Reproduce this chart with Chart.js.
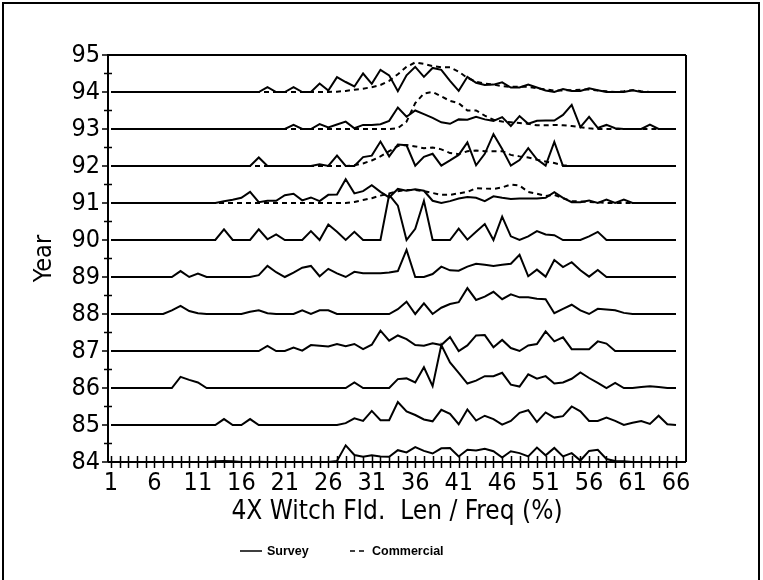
<!DOCTYPE html>
<html><head><meta charset="utf-8">
<script src="https://cdn.jsdelivr.net/npm/chart.js@4.4.1/dist/chart.umd.min.js"></script>
<style>
html,body{margin:0;padding:0;background:#fff;}
#wrap{position:relative;width:763px;height:580px;overflow:hidden;}
#frame{position:absolute;left:2px;top:2px;width:758px;height:640px;border:2px solid #000;box-sizing:border-box;}
canvas{position:absolute;left:0;top:0;}
</style></head><body>
<div id="wrap"><div id="frame"></div><canvas id="c" width="763" height="580"></canvas></div>
<script>
const lengths = [1,2,3,4,5,6,7,8,9,10,11,12,13,14,15,16,17,18,19,20,21,22,23,24,25,26,27,28,29,30,31,32,33,34,35,36,37,38,39,40,41,42,43,44,45,46,47,48,49,50,51,52,53,54,55,56,57,58,59,60,61,62,63,64,65,66];
const yearTicks = [84,85,86,87,88,89,90,91,92,93,94,95];

// Survey frequency (offset above the year baseline)
const s94 = [0,0,0,0,0,0,0,0,0,0, 0,0,0,0,0,0,0,0,0.13,0, 0,0.13,0,0,0.23,0.04,0.4,0.27,0.15,0.5, 0.22,0.6,0.45,0.02,0.45,0.68,0.41,0.65,0.6,0.3, 0.03,0.41,0.25,0.19,0.2,0.26,0.12,0.12,0.2,0.12, 0.04,0,0.08,0.03,0.03,0.1,0.05,0,0,0, 0.05,0,0,0,0,0];
const s93 = [0,0,0,0,0,0,0,0,0,0, 0,0,0,0,0,0,0,0,0,0, 0,0.11,0,0,0.13,0.04,0.12,0.2,0.02,0.11, 0.11,0.13,0.22,0.58,0.33,0.5,0.4,0.3,0.18,0.14, 0.26,0.25,0.33,0.26,0.22,0.32,0.08,0.35,0.14,0.22, 0.23,0.23,0.38,0.65,0.05,0.33,0.03,0.11,0.02,0, 0,0,0.12,0,0,0];
const s92 = [0,0,0,0,0,0,0,0,0,0, 0,0,0,0,0,0,0,0.23,0,0, 0,0,0,0,0.05,0,0.28,0,0,0.24, 0.28,0.66,0.26,0.58,0.56,0.01,0.25,0.33,0.01,0.15, 0.3,0.64,0.02,0.33,0.86,0.46,0.01,0.16,0.48,0.18, 0.01,0.65,0,0,0,0,0,0,0,0, 0,0,0,0,0,0];
const s91 = [0,0,0,0,0,0,0,0,0,0, 0,0,0,0.05,0.09,0.14,0.3,0.02,0.06,0.06, 0.21,0.25,0.07,0.15,0.05,0.22,0.23,0.64,0.26,0.32, 0.48,0.3,0.15,0.38,0.33,0.37,0.33,0.06,0,0.05, 0.12,0.16,0.14,0.05,0.18,0.14,0.11,0.12,0.12,0.12, 0.14,0.29,0.14,0.02,0.02,0.07,0,0.09,0,0.09, 0,0,0,0,0,0];
const s90 = [0,0,0,0,0,0,0,0,0,0, 0,0,0,0.29,0,0,0,0.29,0.02,0.15, 0,0,0,0.24,0,0.42,0.22,0,0.22,0, 0,0,1.22,0.93,0,0.3,1.06,0,0,0, 0.31,0.01,0.22,0.43,0,0.63,0.1,0,0.1,0.24, 0.15,0.13,0,0,0,0.1,0.22,0,0,0, 0,0,0,0,0,0];
const s89 = [0,0,0,0,0,0,0,0,0.16,0, 0.09,0,0,0,0,0,0,0.05,0.3,0.13, 0,0.12,0.25,0.3,0.02,0.22,0.1,0,0.14,0.1, 0.1,0.1,0.12,0.16,0.73,0,0,0.08,0.28,0.18, 0.17,0.28,0.36,0.33,0.3,0.33,0.36,0.6,0.02,0.2, 0.01,0.46,0.27,0.4,0.18,0.01,0.19,0,0,0, 0,0,0,0,0,0];
const s88 = [0,0,0,0,0,0,0,0.1,0.22,0.08, 0.02,0,0,0,0,0,0.06,0.1,0.02,0, 0,0,0.1,0,0.1,0.1,0,0,0,0, 0,0,0,0.13,0.33,0,0.29,0,0.17,0.27, 0.32,0.7,0.38,0.47,0.6,0.4,0.53,0.45,0.45,0.41, 0.4,0.02,0.14,0.25,0.1,0,0.14,0.12,0.1,0.03, 0,0,0,0,0,0];
const s87 = [0,0,0,0,0,0,0,0,0,0, 0,0,0,0,0,0,0,0,0.14,0, 0,0.09,0.01,0.16,0.14,0.12,0.19,0.13,0.19,0.05, 0.17,0.55,0.28,0.42,0.32,0.16,0.14,0.21,0.16,0.38, 0,0.15,0.42,0.43,0.1,0.3,0.08,0,0.15,0.19, 0.53,0.26,0.37,0.05,0.05,0.05,0.26,0.2,0,0, 0,0,0,0,0,0];
const s86 = [0,0,0,0,0,0,0,0,0.3,0.22, 0.15,0,0,0,0,0,0,0,0,0, 0,0,0,0,0,0,0,0,0.15,0, 0,0,0,0.24,0.26,0.15,0.56,0.05,1.16,0.69, 0.41,0.12,0.2,0.32,0.32,0.41,0.09,0.04,0.37,0.25, 0.32,0.12,0.15,0.25,0.42,0.27,0.14,0,0.14,0, 0,0.03,0.05,0.03,0,0];
const s85 = [0,0,0,0,0,0,0,0,0,0, 0,0,0,0.16,0,0,0.16,0,0,0, 0,0,0,0,0,0,0,0.05,0.18,0.11, 0.38,0.13,0.13,0.62,0.37,0.27,0.15,0.1,0.41,0.3, 0.02,0.42,0.12,0.25,0.16,0.01,0.11,0.33,0.4,0.08, 0.34,0.2,0.24,0.5,0.37,0.11,0.11,0.2,0.11,0, 0.06,0.11,0.03,0.25,0.02,0];
const s84 = [0,0,0,0,0,0,0,0,0,0, 0,0,0.02,0.03,0.02,0,0,0.01,0,0, 0,0,0,0,0,0,0.03,0.45,0.19,0.14, 0.18,0.15,0.14,0.32,0.26,0.4,0.3,0.23,0.37,0.38, 0.15,0.33,0.31,0.36,0.29,0.12,0.29,0.24,0.15,0.39, 0.18,0.38,0.15,0.24,0.04,0.3,0.33,0.08,0.03,0.02, 0,0,0,0,0,0];

// Commercial frequency (offset above the year baseline)
const c94 = [0,0,0,0,0,0,0,0,0,0, 0,0,0,0,0,0,0,0,0,0, 0,0,0,0,0,0,0.01,0.03,0.06,0.09, 0.13,0.19,0.3,0.48,0.68,0.8,0.76,0.7,0.67,0.67, 0.55,0.38,0.28,0.23,0.2,0.16,0.14,0.14,0.14,0.1, 0.07,0.04,0.04,0.05,0.06,0.07,0.04,0.02,0,0.02, 0.05,0.02,0,0,0,0];
const c93 = [0,0,0,0,0,0,0,0,0,0, 0,0,0,0,0,0,0,0,0,0, 0,0,0,0,0,0,0,0,0,0, 0,0,0,0.02,0.2,0.7,0.96,1.0,0.88,0.76, 0.7,0.5,0.5,0.36,0.25,0.2,0.18,0.16,0.14,0.1, 0.1,0.11,0.1,0.08,0.05,0.02,0,0,0,0, 0,0,0,0,0,0];
const c92 = [0,0,0,0,0,0,0,0,0,0, 0,0,0,0,0,0,0,0,0,0, 0,0,0,0,0,0,0,0,0.02,0.07, 0.15,0.26,0.4,0.54,0.57,0.53,0.48,0.5,0.45,0.35, 0.32,0.4,0.42,0.4,0.4,0.4,0.3,0.26,0.23,0.17, 0.12,0.08,0.02,0,0,0,0,0,0,0, 0,0,0,0,0,0];
const c91 = [0,0,0,0,0,0,0,0,0,0, 0,0,0,0,0,0,0,0,0,0, 0,0,0,0,0,0,0,0,0.03,0.08, 0.13,0.2,0.26,0.32,0.35,0.35,0.32,0.27,0.22,0.22, 0.26,0.3,0.4,0.39,0.38,0.42,0.5,0.47,0.3,0.25, 0.19,0.22,0.13,0.05,0.04,0.03,0.02,0,0,0, 0,0,0,0,0,0];

const surveyYears = [94,93,92,91,90,89,88,87,86,85,84];
const surveySeries = [s94,s93,s92,s91,s90,s89,s88,s87,s86,s85,s84];
const commercialYears = [94,93,92,91];
const commercialSeries = [c94,c93,c92,c91];

const FONT = '"Liberation Sans Narrow", "Arial Narrow", "DejaVu Sans Condensed", sans-serif';
const LFONT = '"Liberation Sans", Arial, sans-serif';

function pts(year, arr){ return lengths.map((v,i)=>({x:v, y:year+arr[i]})); }

const datasets = [];
surveyYears.forEach((yr,k)=>{
  datasets.push({label:'Survey '+yr, data:pts(yr, surveySeries[k]), borderColor:'#000', borderWidth:2, pointRadius:0, tension:0, fill:false});
});
commercialYears.forEach((yr,k)=>{
  datasets.push({label:'Commercial '+yr, data:pts(yr, commercialSeries[k]), borderColor:'#000', borderWidth:2, borderDash:[5,4], pointRadius:0, tension:0, fill:false});
});

const decor = {
  id:'decor',
  afterDraw(chart){
    const ctx = chart.ctx, a = chart.chartArea;
    const xs = chart.scales.x, ys = chart.scales.y;
    ctx.save();
    ctx.strokeStyle = '#000';
    ctx.lineWidth = 2;
    ctx.beginPath();
    ctx.moveTo(a.left, a.top); ctx.lineTo(a.right, a.top);
    ctx.moveTo(a.right, a.top); ctx.lineTo(a.right, a.bottom);
    ctx.moveTo(a.left, a.top-1); ctx.lineTo(a.left, a.bottom);
    ctx.moveTo(a.left, a.bottom); ctx.lineTo(a.right, a.bottom);
    ctx.stroke();
    ctx.lineWidth = 1.5;
    ctx.beginPath();
    lengths.forEach(v=>{
      const x = Math.round(xs.getPixelForValue(v))+0.5;
      ctx.moveTo(x, a.bottom-6); ctx.lineTo(x, a.bottom+6);
    });
    yearTicks.forEach(v=>{
      const y = ys.getPixelForValue(v);
      ctx.moveTo(a.left-6, y); ctx.lineTo(a.left, y);
      if (v < 95){
        const ym = ys.getPixelForValue(v+0.5);
        ctx.moveTo(a.left-4, ym); ctx.lineTo(a.left+4, ym);
      }
    });
    ctx.stroke();
    // legend
    const ly = 551;
    ctx.lineWidth = 1.5;
    ctx.beginPath();
    ctx.moveTo(240, ly); ctx.lineTo(262, ly);
    ctx.moveTo(350, ly); ctx.lineTo(355, ly);
    ctx.moveTo(359, ly); ctx.lineTo(364, ly);
    ctx.stroke();
    ctx.fillStyle = '#000';
    ctx.font = 'bold 12.5px ' + LFONT;
    ctx.textBaseline = 'middle';
    ctx.textAlign = 'left';
    ctx.fillText('Survey', 267, ly+1);
    ctx.fillText('Commercial', 372, ly+1);
    ctx.restore();
  }
};

new Chart(document.getElementById('c'), {
  type:'line',
  data:{datasets},
  options:{
    responsive:false, animation:false, devicePixelRatio:1,
    layout:{padding:{top:55, right:77, left:0, bottom:0}},
    plugins:{legend:{display:false}, tooltip:{enabled:false}},
    scales:{
      x:{
        type:'linear', min:0.655, max:67.15,
        grid:{display:false, tickLength:0}, border:{display:false},
        afterBuildTicks(s){ s.ticks = lengths.map(v=>({value:v})); },
        afterFit(s){ s.height = 118; },
        ticks:{autoSkip:false, maxRotation:0, minRotation:0, padding:6, color:'#000',
          font:{family:FONT, size:25}},
        title:{display:true, text:'4X Witch Fld.  Len / Freq (%)', color:'#000',
          font:{family:FONT, size:26}, padding:{top:0, bottom:52}}
      },
      y:{
        type:'linear', min:84, max:95,
        grid:{display:false, tickLength:0}, border:{display:false},
        afterBuildTicks(s){ s.ticks = yearTicks.map(v=>({value:v})); },
        afterFit(s){ s.width = 108; },
        ticks:{padding:8, color:'#000', font:{family:FONT, size:25}},
        title:{display:true, text:'Year', color:'#000',
          font:{family:FONT, size:25}, padding:{top:29, bottom:0}}
      }
    }
  },
  plugins:[decor]
});
// x tick labels every 5 units
Chart.getChart('c').options.scales.x.ticks.callback = (v)=> ((v-1)%5===0 ? String(v) : '');
Chart.getChart('c').update();
</script>
</body></html>
